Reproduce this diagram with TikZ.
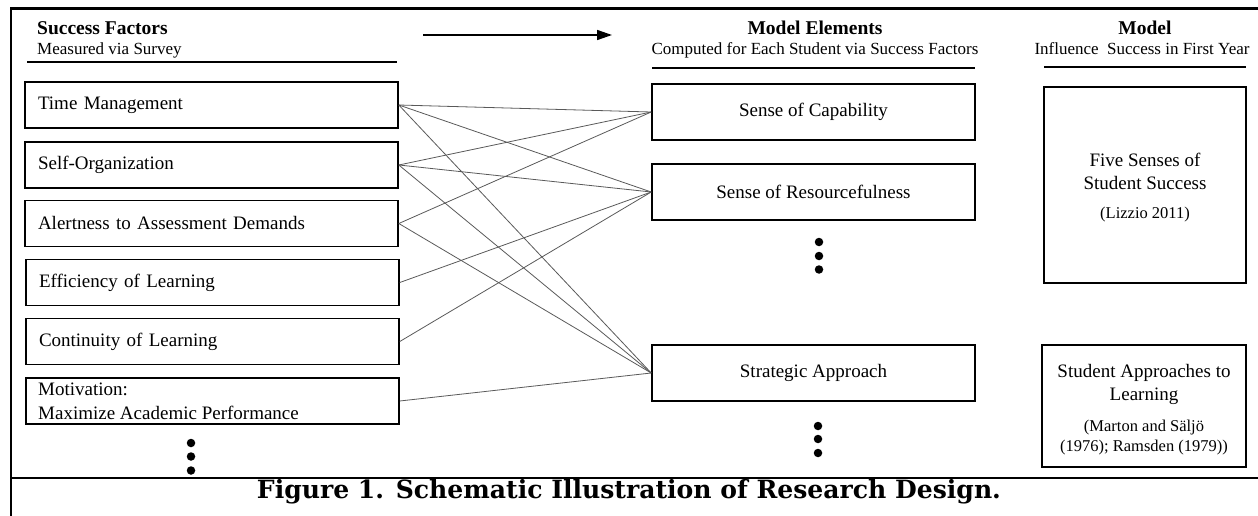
\documentclass[tikz,border=0pt]{standalone}
\usepackage{fontspec}
\setmainfont{Liberation Serif}
\newfontfamily\capfont{DejaVu Serif}
\usetikzlibrary{arrows.meta}
\begin{document}
\begin{tikzpicture}[x=1pt,y=-1pt,
  lbox/.style={draw, line width=1.6pt, minimum width=373pt, minimum height=46pt, text width=347pt, align=left, inner xsep=13pt, inner ysep=0pt, font=\fontsize{19}{23}\selectfont},
  mbox/.style={draw, line width=1.6pt, minimum width=323pt, minimum height=56pt, font=\fontsize{19}{23}\selectfont},
  rbox/.style={draw, line width=1.6pt, inner sep=0pt},
  rtext/.style={font=\fontsize{19}{23}\selectfont, inner sep=0pt},
  ctext/.style={font=\fontsize{16.5}{20}\selectfont, inner sep=0pt},
  conn/.style={draw=black!65, line width=0.8pt},
  vdot/.style={circle, fill=black, minimum size=8.5pt, inner sep=0pt},
  hbold/.style={font=\bfseries\fontsize{19.5}{23}\selectfont, inner sep=0pt, anchor=base},
  hsub/.style={font=\fontsize{17}{20}\selectfont, inner sep=0pt, anchor=base},
  hrule/.style={line width=1.4pt}
]
\useasboundingbox (0,0) rectangle (1258,516);
% frame
\draw[line width=2.4pt] (1258,8.5) -- (10.7,8.5) -- (10.7,516);
\draw[line width=2.4pt] (10.7,478) -- (1258,478);

% headers
\node[hbold, anchor=base west] (h1) at (37,35) {Success Factors};
\node[hsub, anchor=base west] (s1) at (37,55) {Measured via Survey};
\draw[hrule] (27,62) -- (397,62);

\coordinate (a1) at (423,35);
\coordinate (a2) at (612,35);
\draw[line width=1.5pt, -{Triangle[length=15pt,width=10pt]}] (a1) -- (a2);

\node[hbold] (h2) at (815,35) {Model Elements};
\node[hsub] (s2) at (815,55) {Computed for Each Student via Success Factors};
\draw[hrule] (652,68) -- (975,68);

\node[hbold] (h3) at (1145,35) {Model};
\node[hsub] (s3) at (1142,55) {Influence\ \ Success in First Year};
\draw[hrule] (1044,67) -- (1246,67);

% left boxes
\node[lbox] (tm) at (211.5,105) {Time Management};
\node[lbox] (so) at (211.5,165) {Self-Organization};
\node[lbox] (al) at (211.5,223.5) {Alertness to Assessment Demands};
\node[lbox] (ef) at (212.5,282.5) {Efficiency\ of Learning};
\node[lbox] (co) at (212.5,341.5) {Continuity of Learning};
\node[lbox] (mo) at (212.5,401) {};
\node[rtext, anchor=base west] (mo1) at (38,395) {Motivation:};
\node[rtext, anchor=base west] (mo2) at (38,419) {Maximize Academic Performance};
\node[vdot] (d1) at (191,443) {};
\node[vdot] (d2) at (191,456.5) {};
\node[vdot] (d3) at (191,470.5) {};

% middle boxes
\node[mbox] (cap) at (813.5,112) {Sense of Capability};
\node[mbox] (res) at (813.5,192) {Sense of Resourcefulness};
\node[mbox] (str) at (813.5,373) {Strategic Approach};
\node[vdot] (e1) at (819,242) {};
\node[vdot] (e2) at (819,256) {};
\node[vdot] (e3) at (819,269.5) {};
\node[vdot] (f1) at (818,426) {};
\node[vdot] (f2) at (818,439) {};
\node[vdot] (f3) at (818,453) {};

% right boxes
\node[rbox, minimum width=202pt, minimum height=196pt] (five) at (1145,185) {};
\node[rtext] (five1) at (1145,160) {Five Senses of};
\node[rtext] (five2) at (1145,183.5) {Student Success};
\node[ctext] (five3) at (1145,215) {(Lizzio 2011)};

\node[rbox, minimum width=204pt, minimum height=122pt] (sal) at (1144,406) {};
\node[rtext] (sal1) at (1144,373) {Student Approaches to};
\node[rtext] (sal2) at (1144,396) {Learning};
\node[ctext] (sal3) at (1144,428) {(Marton and Säljö};
\node[ctext] (sal4) at (1144,447.5) {(1976); Ramsden (1979))};

% connectors
\draw[conn] (tm.east) -- (cap.west);
\draw[conn] (tm.east) -- (res.west);
\draw[conn] (tm.east) -- (str.west);
\draw[conn] (so.east) -- (cap.west);
\draw[conn] (so.east) -- (res.west);
\draw[conn] (so.east) -- (str.west);
\draw[conn] (al.east) -- (cap.west);
\draw[conn] (al.east) -- (str.west);
\draw[conn] (ef.east) -- (res.west);
\draw[conn] (co.east) -- (res.west);
\draw[conn] (mo.east) -- (str.west);

% caption
\node[anchor=base, inner sep=0pt] (fig) at (629,498) {\resizebox{744pt}{!}{\capfont\bfseries\fontsize{21}{24}\selectfont Figure 1. Schematic Illustration of Research Design.}};
\end{tikzpicture}
\end{document}
